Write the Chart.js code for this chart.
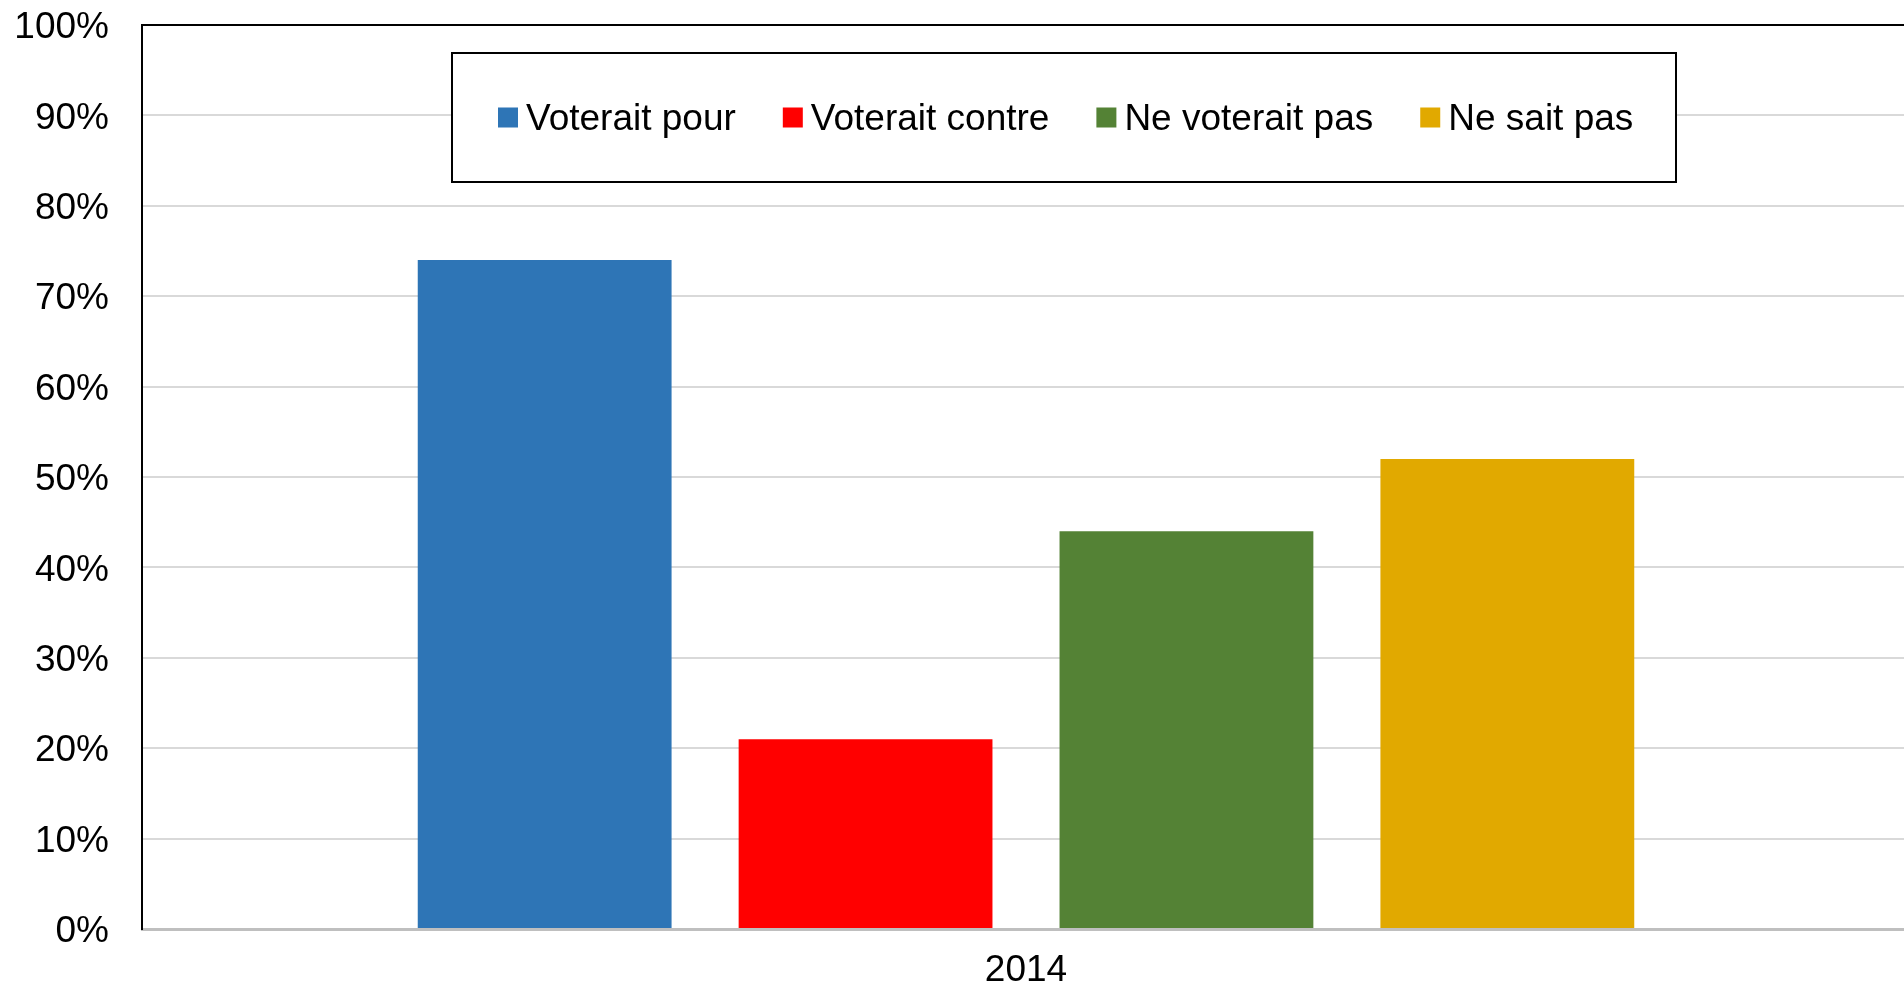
<!DOCTYPE html>
<html lang="fr">
<head>
<meta charset="utf-8">
<title>Intentions de vote 2014</title>
<script src="https://cdn.jsdelivr.net/npm/chart.js@4/dist/chart.umd.min.js"></script>
<style>
  html, body { margin: 0; padding: 0; background: #fff; overflow: hidden; }
  .chart-wrap { position: relative; width: 1910px; height: 988px; }
</style>
</head>
<body>
<div class="chart-wrap">
  <canvas id="voteChart"></canvas>
</div>
<script>
// Data
const categories = ['2014'];
const seriesLabels = ['Voterait pour', 'Voterait contre', 'Ne voterait pas', 'Ne sait pas'];
const seriesValues = [74, 21, 44, 52];
const seriesColors = ['#2E75B6', '#FF0000', '#548235', '#E1A900'];
const yTicks = [0, 10, 20, 30, 40, 50, 60, 70, 80, 90, 100];

const FONT = '"Liberation Sans", Arial, sans-serif';
const FONT_SIZE = 37;

// Legend box drawn inside the plot, plus the black top border of the plot area
const framePlugin = {
  id: 'frameAndLegend',
  afterDraw(chart, args, opts) {
    const ctx = chart.ctx;
    const area = chart.chartArea;

    ctx.save();
    // top border
    ctx.strokeStyle = '#000';
    ctx.lineWidth = 2;
    ctx.beginPath();
    ctx.moveTo(area.left, area.top);
    ctx.lineTo(area.right, area.top);
    ctx.stroke();

    // legend box
    const box = opts.box;
    ctx.fillStyle = '#fff';
    ctx.fillRect(box.left, box.top, box.width, box.height);
    ctx.strokeStyle = '#000';
    ctx.lineWidth = 2;
    ctx.strokeRect(box.left, box.top, box.width, box.height);

    ctx.font = FONT_SIZE + 'px ' + FONT;
    ctx.textBaseline = 'middle';
    ctx.textAlign = 'left';
    const cy = box.top + box.height / 2;
    let x = box.left + opts.startOffset;
    chart.data.datasets.forEach(ds => {
      ctx.fillStyle = ds.backgroundColor;
      ctx.fillRect(x, cy - opts.marker / 2, opts.marker, opts.marker);
      x += opts.marker + opts.markerGap;
      ctx.fillStyle = '#000';
      ctx.fillText(ds.label, x, cy + 2);
      x += ctx.measureText(ds.label).width + opts.itemGap;
    });
    ctx.restore();
  }
};

const datasets = seriesLabels.map((label, i) => ({
  label: label,
  data: [seriesValues[i]],
  backgroundColor: seriesColors[i],
  borderWidth: 0,
  categoryPercentage: 0.726,
  barPercentage: 0.791
}));

const ctx = document.getElementById('voteChart').getContext('2d');
new Chart(ctx, {
  type: 'bar',
  data: { labels: categories, datasets: datasets },
  plugins: [framePlugin],
  options: {
    responsive: true,
    maintainAspectRatio: false,
    animation: false,
    layout: { padding: { top: 25, left: 14, right: 0, bottom: 0 } },
    scales: {
      x: {
        grid: { display: false, drawTicks: false },
        border: { display: true, color: '#BFBFBF', width: 3 },
        ticks: {
          color: '#000',
          padding: 20,
          font: { family: FONT, size: FONT_SIZE }
        },
        afterFit: axis => {
          axis.height = 59;
          axis.paddingLeft = 0;
          axis.paddingRight = 0;
        }
      },
      y: {
        min: 0,
        max: 100,
        afterBuildTicks: axis => {
          axis.ticks = yTicks.map(v => ({ value: v }));
        },
        grid: { color: '#D9D9D9', lineWidth: 2, drawTicks: false },
        border: { display: true, color: '#000', width: 2 },
        ticks: {
          color: '#000',
          padding: 33,
          labelOffset: 3,
          font: { family: FONT, size: FONT_SIZE },
          callback: v => v + '%'
        },
        afterFit: axis => {
          axis.width = 128;
          axis.paddingTop = 0;
          axis.paddingBottom = 0;
        }
      }
    },
    plugins: {
      legend: { display: false },
      tooltip: { enabled: false },
      frameAndLegend: {
        box: { left: 452, top: 53, width: 1224, height: 129 },
        marker: 20,
        markerGap: 8,
        itemGap: 47,
        startOffset: 46
      }
    }
  }
});
</script>
</body>
</html>
